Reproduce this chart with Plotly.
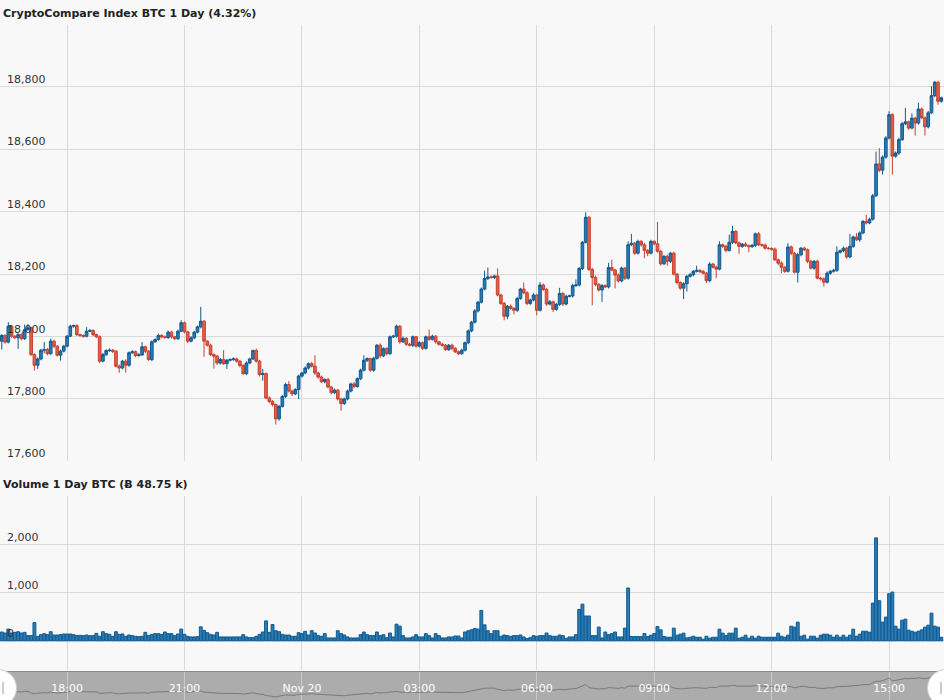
import plotly.graph_objects as go
import pandas as pd

# ---------------- data (5-minute candles) ----------------
times = pd.date_range("2020-11-19 16:20", periods=289, freq="5min")

opens = [
17985,18003,17982,18033,18001,17996,18006,17993,18022,18028,
17942,17908,17928,17956,17958,17945,17985,17969,17940,17953,
17969,18001,18033,18035,18006,18003,18001,18017,18019,18006,
17999,17921,17942,17955,17956,17953,17905,17899,17921,17908,
17948,17951,17939,17941,17967,17953,17926,17983,17990,18003,
17999,17997,18014,17999,17993,18017,18044,18015,17985,17996,
18014,18031,18049,17985,17972,17942,17937,17915,17926,17913,
17924,17926,17928,17921,17907,17881,17915,17928,17955,17921,
17878,17881,17803,17792,17782,17736,17776,17808,17846,17825,
17816,17830,17873,17883,17899,17913,17905,17883,17870,17855,
17862,17838,17820,17828,17800,17785,17800,17825,17848,17840,
17865,17892,17924,17929,17892,17930,17972,17938,17961,17945,
17999,18001,18033,17983,17994,17975,17972,17999,17969,17980,
17962,17999,17991,18001,17983,17975,17972,17958,17972,17962,
17951,17945,17956,17980,18018,18046,18082,18110,18152,18186,
18191,18189,18194,18133,18106,18065,18097,18090,18084,18122,
18152,18140,18106,18117,18133,18084,18165,18151,18104,18111,
18087,18103,18138,18104,18129,18130,18163,18165,18218,18302,
18382,18215,18189,18167,18149,18163,18159,18221,18213,18197,
18178,18219,18187,18294,18299,18267,18305,18294,18276,18267,
18305,18297,18273,18233,18257,18241,18267,18200,18173,18155,
18169,18193,18198,18209,18212,18208,18203,18179,18232,18222,
18216,18294,18289,18276,18302,18337,18300,18289,18296,18291,
18288,18292,18329,18294,18293,18283,18282,18280,18246,18235,
18222,18209,18287,18267,18206,18262,18283,18278,18241,18219,
18241,18187,18185,18174,18203,18209,18212,18270,18275,18283,
18255,18289,18319,18310,18332,18369,18364,18376,18451,18553,
18533,18575,18636,18711,18578,18588,18631,18682,18688,18668,
18700,18684,18729,18701,18672,18717,18772,18815,18754,
]

closes = [
18003,17982,18033,18001,17996,18006,17993,18022,18028,17942,
17908,17928,17956,17958,17945,17985,17969,17940,17953,17969,
18001,18033,18035,18006,18003,18001,18017,18019,18006,17999,
17921,17942,17955,17956,17953,17905,17899,17921,17908,17948,
17951,17939,17941,17967,17953,17926,17983,17990,18003,17999,
17997,18014,17999,17993,18017,18044,18015,17985,17996,18014,
18031,18049,17985,17972,17942,17937,17915,17926,17913,17924,
17926,17928,17921,17907,17881,17915,17928,17955,17921,17878,
17881,17803,17792,17782,17736,17776,17808,17846,17825,17816,
17830,17873,17883,17899,17913,17905,17883,17870,17855,17862,
17838,17820,17828,17800,17785,17800,17825,17848,17840,17865,
17892,17924,17929,17892,17930,17972,17938,17961,17945,17999,
18001,18033,17983,17994,17975,17972,17999,17969,17980,17962,
17999,17991,18001,17983,17975,17972,17958,17972,17962,17951,
17945,17956,17980,18018,18046,18082,18110,18152,18186,18191,
18189,18194,18133,18106,18065,18097,18090,18084,18122,18152,
18140,18106,18117,18133,18084,18165,18151,18104,18111,18087,
18103,18138,18104,18129,18130,18163,18165,18218,18302,18382,
18215,18189,18167,18149,18163,18159,18221,18213,18197,18178,
18219,18187,18294,18299,18267,18305,18294,18276,18267,18305,
18297,18273,18233,18257,18241,18267,18200,18173,18155,18169,
18193,18198,18209,18212,18208,18203,18179,18232,18222,18216,
18294,18289,18276,18302,18337,18300,18289,18296,18291,18288,
18292,18329,18294,18293,18283,18282,18280,18246,18235,18222,
18209,18287,18267,18206,18262,18283,18278,18241,18219,18241,
18187,18185,18174,18203,18209,18212,18270,18275,18283,18255,
18289,18319,18310,18332,18369,18364,18376,18451,18553,18533,
18575,18636,18711,18578,18588,18631,18682,18688,18668,18700,
18684,18729,18701,18672,18717,18772,18815,18754,18765,
]

# wick lengths (price units) above / below each candle body
upper_wick = [
5,4,13,4,3,6,4,16,12,3,
4,5,4,24,5,8,4,3,5,4,
4,5,3,4,3,4,13,5,4,3,
4,5,4,6,4,3,5,4,6,4,
5,4,6,15,4,3,5,4,6,4,
4,5,4,3,5,8,4,3,5,4,
4,46,4,3,5,4,4,5,30,4,
4,5,4,3,4,5,4,3,6,4,
15,4,5,4,3,5,4,6,11,4,
4,5,4,5,4,6,35,4,5,4,
6,4,5,4,3,4,5,4,6,4,
5,16,4,3,5,4,6,4,5,4,
4,5,4,6,4,5,4,3,5,4,
4,23,5,4,3,5,4,4,5,4,
4,5,4,5,4,6,4,5,25,30,
5,4,24,4,5,4,6,4,5,4,
21,5,4,6,4,10,5,4,6,4,
5,18,4,5,4,6,18,5,4,16,
4,5,6,4,5,4,15,25,4,5,
5,4,11,30,4,5,4,6,4,5,
4,70,5,4,6,4,5,4,4,5,
4,6,4,15,4,5,4,6,4,5,
11,4,5,24,18,4,5,4,6,4,
5,4,6,4,5,4,4,5,4,6,
4,12,5,4,6,4,5,4,5,4,
5,4,4,6,4,5,19,4,5,4,
40,4,12,5,4,21,5,6,40,51,
5,6,11,4,5,6,5,45,4,15,
4,20,5,4,6,30,4,5,4,
]

lower_wick = [
27,5,4,6,4,36,5,4,3,4,
17,12,4,10,5,4,6,4,17,4,
4,3,5,4,4,5,4,3,5,4,
6,4,5,4,6,4,15,4,24,5,
4,5,4,3,6,4,5,4,3,5,
4,5,6,4,4,3,5,6,4,5,
4,5,50,4,5,40,6,5,4,17,
4,4,5,6,4,5,4,3,5,6,
20,4,5,6,18,6,4,5,4,7,
4,30,5,4,5,4,6,5,4,5,
4,6,4,5,23,4,5,4,6,4,
5,4,6,4,5,4,6,4,5,4,
4,5,6,4,5,4,6,5,4,5,
4,5,4,6,4,5,4,4,6,4,
5,4,4,5,4,4,5,4,4,5,
4,5,4,5,13,10,4,13,5,4,
4,6,5,4,16,4,5,6,4,8,
4,5,6,4,4,5,4,4,5,4,
5,89,6,5,38,4,5,4,43,5,
4,6,5,4,5,4,6,25,10,4,
5,4,6,4,14,5,4,6,5,35,
25,4,5,4,5,4,8,5,4,29,
4,5,6,4,5,4,24,5,4,18,
4,5,4,6,5,4,5,4,6,19,
5,4,6,4,33,5,4,6,4,5,
4,6,14,4,5,4,5,4,5,6,
4,5,4,6,4,5,4,5,4,6,
14,5,4,59,5,6,4,5,6,4,
40,5,4,28,5,4,5,11,5,
]

volumes = [
184,163,245,163,177,190,163,177,109,109,
380,95,129,150,129,190,122,122,129,143,
143,143,129,109,115,109,122,109,109,156,
95,190,150,136,95,190,136,143,95,122,
109,95,88,95,177,109,136,150,150,136,
184,150,150,109,143,245,136,95,82,82,
88,292,218,170,136,122,177,82,82,82,
82,82,82,82,129,82,68,68,95,136,
184,415,177,340,211,190,136,122,122,95,
95,170,150,197,122,211,163,109,95,150,
61,61,61,211,150,122,82,61,61,61,
129,184,129,109,109,184,109,129,68,163,
82,347,306,109,61,61,82,129,82,82,
150,109,61,150,109,61,61,82,82,102,
102,61,184,211,231,258,245,632,333,211,
150,211,211,95,122,109,95,109,109,122,
82,48,68,109,95,109,109,163,109,95,
95,122,109,54,82,82,129,653,762,517,
517,109,109,286,61,184,129,150,184,82,
82,265,1097,90,90,90,90,153,90,118,
153,298,229,90,76,76,264,118,139,160,
62,76,97,76,76,35,97,56,76,76,
243,160,111,160,160,264,56,76,118,56,
97,56,97,76,76,76,76,76,160,97,
76,118,305,285,389,97,118,35,97,97,
56,118,139,139,118,76,118,76,118,76,
118,243,97,139,201,201,180,784,2137,833,
389,493,979,1013,305,243,430,451,222,201,
180,201,229,285,326,576,305,285,76,
]

price_ticks = [17600, 17800, 18000, 18200, 18400, 18600, 18800, 19000]
price_tick_text = ["17,600", "17,800", "18,000", "18,200", "18,400", "18,600", "18,800", ""]
volume_ticks = [0, 1000, 2000, 3000]
volume_tick_text = ["0", "1,000", "2,000", ""]
time_ticks = ["2020-11-19 18:00", "2020-11-19 21:00", "2020-11-20 00:00", "2020-11-20 03:00",
              "2020-11-20 06:00", "2020-11-20 09:00", "2020-11-20 12:00", "2020-11-20 15:00"]
time_tick_text = ["18:00", "21:00", "Nov 20", "03:00", "06:00", "09:00", "12:00", "15:00"]

price_title = "CryptoCompare Index BTC 1 Day (4.32%)"
volume_title = "Volume 1 Day BTC (\u0243 48.75 k)"

assert len(opens) == len(closes) == len(upper_wick) == len(lower_wick) == len(volumes) == len(times)

highs = [max(o, c) + u for o, c, u in zip(opens, closes, upper_wick)]
lows = [min(o, c) - w for o, c, w in zip(opens, closes, lower_wick)]

# ---------------- style ----------------
W, H = 944, 700
FONT = "DejaVu Sans"
BLUE_FILL, BLUE_LINE = "#2b7bb4", "#0f5a91"
RED_FILL, RED_LINE = "#e0604e", "#c9412f"
GRID = "#dadada"
BG = "#f8f8f8"

def py(px):  # pixel from top -> paper fraction
    return 1 - px / H

x_range = ["2020-11-19 16:17:15", "2020-11-20 16:24:10"]

fig = go.Figure()
fig.add_trace(go.Candlestick(
    x=times, open=opens, high=highs, low=lows, close=closes,
    xaxis="x", yaxis="y", whiskerwidth=0,
    increasing=dict(fillcolor=BLUE_FILL, line=dict(color=BLUE_LINE, width=1)),
    decreasing=dict(fillcolor=RED_FILL, line=dict(color=RED_LINE, width=1)),
    showlegend=False, hoverinfo="skip"))
fig.add_trace(go.Bar(
    x=times, y=volumes, xaxis="x2", yaxis="y2",
    marker=dict(color=BLUE_FILL, line=dict(color=BLUE_LINE, width=1)),
    showlegend=False, hoverinfo="skip"))
fig.add_trace(go.Scatter(
    x=times, y=closes, xaxis="x3", yaxis="y3", mode="lines",
    line=dict(color="#7a7a7a", width=1), showlegend=False, hoverinfo="skip"))

common_x = dict(type="date", range=x_range, tickvals=time_ticks, showgrid=True,
                gridcolor=GRID, gridwidth=1, zeroline=False, showline=False, ticks="")

# volume pane: 0 sits at y=641 px, pane continues down to y=670 px (48 px per 1000)
vol_min = -(670 - 641) / 48 * 1000

fig.update_layout(
    width=W, height=H, margin=dict(l=0, r=0, t=0, b=0),
    paper_bgcolor=BG, plot_bgcolor="rgba(0,0,0,0)",
    font=dict(family=FONT, size=11, color="#333333"),
    hovermode=False, bargap=0.12, boxgap=0.12, boxgroupgap=0.08,
    xaxis=dict(**common_x, domain=[0, 1], anchor="y", showticklabels=False,
               rangeslider=dict(visible=False)),
    xaxis2=dict(**common_x, domain=[0, 1], anchor="y2", matches="x", showticklabels=False),
    xaxis3=dict(type="date", range=x_range, tickvals=time_ticks, ticktext=time_tick_text,
                domain=[0, 1], anchor="y3", matches="x", showgrid=True,
                gridcolor="rgba(255,255,255,0.35)", zeroline=False, showline=False, ticks="",
                ticklabelposition="inside", ticklabelstandoff=3,
                tickfont=dict(family=FONT, size=11, color="#ffffff")),
    yaxis=dict(domain=[py(461.3), py(24.5)], range=[17600, 19000], anchor="x",
               tickvals=price_ticks, ticktext=price_tick_text, ticklabelposition="inside top",
               showgrid=True, gridcolor=GRID, zeroline=False, showline=False, ticks="",
               tickfont=dict(family=FONT, size=11, color="#333333"), ticklabelstandoff=4),
    yaxis2=dict(domain=[py(670), py(496.3)], range=[vol_min, 3000], anchor="x2",
                tickvals=volume_ticks, ticktext=volume_tick_text, ticklabelposition="inside top",
                showgrid=True, gridcolor=GRID, zeroline=False, showline=False, ticks="",
                tickfont=dict(family=FONT, size=11, color="#333333"), ticklabelstandoff=4),
    yaxis3=dict(domain=[0, py(671)], range=[17582, 19072], anchor="x3", visible=False),
)

shapes = [
    # navigator band
    dict(type="rect", xref="paper", yref="paper", x0=0, x1=1, y0=0, y1=py(671),
         fillcolor="#acacac", line=dict(width=0), layer="below"),
    dict(type="line", xref="paper", yref="paper", x0=0, x1=1, y0=py(671.5), y1=py(671.5),
         line=dict(color="#8c8c8c", width=1)),
    # navigator handles
    dict(type="circle", xref="paper", yref="paper", x0=-20.5 / W, x1=16.5 / W,
         y0=py(706.5), y1=py(669.5), fillcolor="#ffffff", line=dict(color="#d0d0d0", width=1),
         layer="above"),
    dict(type="circle", xref="paper", yref="paper", x0=927.5 / W, x1=964.5 / W,
         y0=py(706.5), y1=py(669.5), fillcolor="#ffffff", line=dict(color="#d0d0d0", width=1),
         layer="above"),
    dict(type="line", xref="paper", yref="paper", x0=3 / W, x1=3 / W, y0=py(694), y1=py(682),
         line=dict(color="#9a9a9a", width=1), layer="above"),
    dict(type="line", xref="paper", yref="paper", x0=941 / W, x1=941 / W, y0=py(694), y1=py(682),
         line=dict(color="#9a9a9a", width=1), layer="above"),
]
fig.update_layout(shapes=shapes)

fig.add_annotation(text="<b>" + price_title + "</b>", xref="paper", yref="paper",
                   x=1 / W, y=py(13), xanchor="left", yanchor="middle", showarrow=False,
                   font=dict(family=FONT, size=11, color="#222222"))
fig.add_annotation(text="<b>" + volume_title + "</b>", xref="paper", yref="paper",
                   x=1 / W, y=py(484), xanchor="left", yanchor="middle", showarrow=False,
                   font=dict(family=FONT, size=11, color="#222222"))

fig.write_html("out.html", config={"displayModeBar": False},
               post_script="document.body.style.margin='0';document.body.style.overflow='hidden';")
